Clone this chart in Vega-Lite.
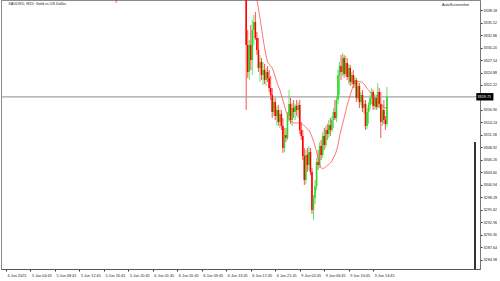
{
  "$schema": "https://vega.github.io/schema/vega-lite/v6.json",
  "width": 479,
  "height": 269,
  "padding": 0,
  "autosize": {"type": "pad"},
  "background": "white",
  "view": {"stroke": "#8a8a8a", "strokeWidth": 1},
  "config": {"font": "Liberation Sans"},
  "resolve": {"axis": {"x": "independent", "y": "independent"}},
  "datasets": {
    "candles": [
      {"b":72,"o":3352.0,"h":3356.0,"l":3339.7,"c":3349.5},
      {"b":157,"o":3343.50,"h":3344.14,"l":3316.90,"c":3330.73},
      {"b":158,"o":3330.73,"h":3333.93,"l":3323.71,"c":3324.99},
      {"b":159,"o":3324.99,"h":3331.80,"l":3323.29,"c":3330.73},
      {"b":160,"o":3330.73,"h":3334.99,"l":3325.41,"c":3327.54},
      {"b":161,"o":3327.54,"h":3336.05,"l":3324.35,"c":3333.93},
      {"b":162,"o":3333.93,"h":3337.12,"l":3330.73,"c":3335.63},
      {"b":163,"o":3335.63,"h":3337.76,"l":3331.80,"c":3332.22},
      {"b":164,"o":3332.22,"h":3333.50,"l":3328.61,"c":3329.67},
      {"b":165,"o":3329.67,"h":3332.22,"l":3324.99,"c":3325.84},
      {"b":166,"o":3325.84,"h":3328.61,"l":3322.86,"c":3327.12},
      {"b":167,"o":3327.12,"h":3327.97,"l":3323.29,"c":3324.35},
      {"b":168,"o":3324.35,"h":3327.12,"l":3322.22,"c":3325.41},
      {"b":169,"o":3325.41,"h":3326.69,"l":3322.43,"c":3323.29},
      {"b":170,"o":3323.29,"h":3325.84,"l":3322.01,"c":3324.99},
      {"b":171,"o":3324.99,"h":3326.26,"l":3322.86,"c":3323.71},
      {"b":172,"o":3323.71,"h":3325.41,"l":3320.73,"c":3321.58},
      {"b":173,"o":3321.58,"h":3324.14,"l":3319.03,"c":3320.09},
      {"b":174,"o":3320.09,"h":3321.58,"l":3315.20,"c":3316.48},
      {"b":175,"o":3316.48,"h":3319.88,"l":3315.62,"c":3318.60},
      {"b":176,"o":3318.60,"h":3319.46,"l":3314.77,"c":3315.62},
      {"b":177,"o":3315.62,"h":3317.75,"l":3313.71,"c":3316.90},
      {"b":178,"o":3316.90,"h":3317.97,"l":3313.50,"c":3314.35},
      {"b":179,"o":3314.35,"h":3316.90,"l":3313.07,"c":3316.05},
      {"b":180,"o":3316.05,"h":3316.90,"l":3312.64,"c":3313.50},
      {"b":181,"o":3313.50,"h":3315.20,"l":3307.75,"c":3308.82},
      {"b":182,"o":3308.82,"h":3313.07,"l":3307.96,"c":3311.58},
      {"b":183,"o":3311.58,"h":3313.07,"l":3310.09,"c":3310.94},
      {"b":184,"o":3310.94,"h":3316.48,"l":3310.52,"c":3315.62},
      {"b":185,"o":3315.62,"h":3321.16,"l":3314.35,"c":3318.18},
      {"b":186,"o":3318.18,"h":3319.46,"l":3313.92,"c":3314.77},
      {"b":187,"o":3314.77,"h":3318.39,"l":3313.50,"c":3317.33},
      {"b":188,"o":3317.33,"h":3319.03,"l":3315.20,"c":3316.48},
      {"b":189,"o":3316.48,"h":3318.18,"l":3314.77,"c":3317.75},
      {"b":190,"o":3317.75,"h":3319.03,"l":3315.62,"c":3316.90},
      {"b":191,"o":3316.90,"h":3318.60,"l":3315.20,"c":3317.97},
      {"b":192,"o":3317.97,"h":3319.03,"l":3311.79,"c":3312.64},
      {"b":193,"o":3312.64,"h":3314.35,"l":3310.52,"c":3311.37},
      {"b":194,"o":3311.37,"h":3312.64,"l":3306.26,"c":3307.11},
      {"b":195,"o":3307.11,"h":3308.82,"l":3300.94,"c":3302.00},
      {"b":196,"o":3302.00,"h":3308.39,"l":3301.15,"c":3307.33},
      {"b":197,"o":3307.33,"h":3308.82,"l":3303.71,"c":3305.20},
      {"b":198,"o":3305.20,"h":3309.24,"l":3304.13,"c":3307.96},
      {"b":199,"o":3307.96,"h":3308.82,"l":3303.07,"c":3303.71},
      {"b":200,"o":3303.71,"h":3304.56,"l":3294.77,"c":3295.62},
      {"b":201,"o":3295.62,"h":3298.81,"l":3293.49,"c":3298.17},
      {"b":202,"o":3298.17,"h":3302.00,"l":3296.90,"c":3300.73},
      {"b":203,"o":3300.73,"h":3306.69,"l":3299.88,"c":3305.84},
      {"b":204,"o":3305.84,"h":3308.39,"l":3304.13,"c":3305.20},
      {"b":205,"o":3305.20,"h":3310.09,"l":3304.56,"c":3309.24},
      {"b":206,"o":3309.24,"h":3310.52,"l":3306.26,"c":3307.33},
      {"b":207,"o":3307.33,"h":3312.22,"l":3306.69,"c":3311.37},
      {"b":208,"o":3311.37,"h":3313.07,"l":3308.39,"c":3309.45},
      {"b":209,"o":3309.45,"h":3313.50,"l":3308.82,"c":3312.64},
      {"b":210,"o":3312.64,"h":3313.92,"l":3310.52,"c":3311.79},
      {"b":211,"o":3311.79,"h":3314.77,"l":3310.94,"c":3313.71},
      {"b":212,"o":3313.71,"h":3315.20,"l":3311.37,"c":3312.64},
      {"b":213,"o":3312.64,"h":3315.62,"l":3312.22,"c":3314.77},
      {"b":214,"o":3314.77,"h":3317.33,"l":3313.07,"c":3316.48},
      {"b":215,"o":3316.48,"h":3319.03,"l":3314.77,"c":3315.20},
      {"b":216,"o":3315.20,"h":3319.88,"l":3314.35,"c":3319.03},
      {"b":217,"o":3319.03,"h":3325.41,"l":3318.18,"c":3324.35},
      {"b":218,"o":3324.35,"h":3327.12,"l":3320.09,"c":3326.26},
      {"b":219,"o":3326.26,"h":3328.61,"l":3323.29,"c":3324.99},
      {"b":220,"o":3324.99,"h":3329.03,"l":3324.14,"c":3327.97},
      {"b":221,"o":3327.97,"h":3328.61,"l":3323.71,"c":3324.56},
      {"b":222,"o":3324.56,"h":3328.39,"l":3324.14,"c":3326.90},
      {"b":223,"o":3326.90,"h":3327.97,"l":3323.29,"c":3323.92},
      {"b":224,"o":3323.92,"h":3326.69,"l":3322.43,"c":3325.84},
      {"b":225,"o":3325.84,"h":3326.48,"l":3322.01,"c":3322.86},
      {"b":226,"o":3322.86,"h":3324.99,"l":3322.22,"c":3324.35},
      {"b":227,"o":3324.35,"h":3325.41,"l":3321.58,"c":3322.43},
      {"b":228,"o":3322.43,"h":3324.14,"l":3321.58,"c":3323.29},
      {"b":229,"o":3323.29,"h":3323.71,"l":3318.60,"c":3319.46},
      {"b":230,"o":3319.46,"h":3322.86,"l":3319.03,"c":3322.01},
      {"b":231,"o":3322.01,"h":3322.65,"l":3317.33,"c":3318.60},
      {"b":232,"o":3318.60,"h":3320.73,"l":3317.97,"c":3320.09},
      {"b":233,"o":3320.09,"h":3321.16,"l":3316.48,"c":3317.33},
      {"b":234,"o":3317.33,"h":3319.03,"l":3316.05,"c":3318.18},
      {"b":235,"o":3318.18,"h":3319.03,"l":3312.64,"c":3313.50},
      {"b":236,"o":3313.50,"h":3317.33,"l":3312.86,"c":3316.48},
      {"b":237,"o":3316.48,"h":3318.60,"l":3313.92,"c":3317.97},
      {"b":238,"o":3317.97,"h":3320.09,"l":3316.90,"c":3319.46},
      {"b":239,"o":3319.46,"h":3321.58,"l":3318.18,"c":3320.73},
      {"b":240,"o":3320.73,"h":3321.16,"l":3316.90,"c":3317.75},
      {"b":241,"o":3317.75,"h":3320.31,"l":3317.11,"c":3319.46},
      {"b":242,"o":3319.46,"h":3320.09,"l":3316.90,"c":3317.54},
      {"b":243,"o":3317.54,"h":3322.65,"l":3317.11,"c":3320.73},
      {"b":244,"o":3320.73,"h":3321.58,"l":3317.33,"c":3318.18},
      {"b":245,"o":3318.18,"h":3320.73,"l":3310.94,"c":3314.35},
      {"b":246,"o":3314.35,"h":3318.18,"l":3313.50,"c":3316.90},
      {"b":247,"o":3316.90,"h":3319.03,"l":3313.92,"c":3314.77},
      {"b":248,"o":3314.77,"h":3315.62,"l":3312.64,"c":3313.92},
      {"b":249,"o":3313.92,"h":3321.80,"l":3313.50,"c":3319.71}
    ],
    "ma": [
      {"b":162,"m":3343.6},{"b":163,"m":3341.9},{"b":164,"m":3340.31},{"b":165,"m":3338.61},
      {"b":166,"m":3336.48},{"b":167,"m":3334.35},{"b":168,"m":3332.22},{"b":169,"m":3330.10},
      {"b":170,"m":3328.39},{"b":171,"m":3327.12},{"b":172,"m":3326.69},{"b":173,"m":3326.26},
      {"b":174,"m":3325.84},{"b":175,"m":3324.99},{"b":176,"m":3323.92},{"b":177,"m":3322.86},
      {"b":178,"m":3322.01},{"b":179,"m":3321.16},{"b":180,"m":3320.09},{"b":181,"m":3319.03},
      {"b":182,"m":3317.75},{"b":183,"m":3316.69},{"b":184,"m":3315.62},{"b":185,"m":3314.99},
      {"b":186,"m":3314.56},{"b":187,"m":3314.35},{"b":188,"m":3314.14},{"b":189,"m":3314.14},
      {"b":190,"m":3314.14},{"b":191,"m":3314.14},{"b":192,"m":3314.14},{"b":193,"m":3314.03},
      {"b":194,"m":3313.82},{"b":195,"m":3313.50},{"b":196,"m":3313.18},{"b":197,"m":3312.86},
      {"b":198,"m":3312.64},{"b":199,"m":3312.01},{"b":200,"m":3311.16},{"b":201,"m":3310.31},
      {"b":202,"m":3309.24},{"b":203,"m":3307.96},{"b":204,"m":3306.69},{"b":205,"m":3305.41},
      {"b":206,"m":3304.56},{"b":207,"m":3304.45},{"b":208,"m":3304.56},{"b":209,"m":3304.77},
      {"b":210,"m":3305.09},{"b":211,"m":3305.30},{"b":212,"m":3305.62},{"b":213,"m":3306.05},
      {"b":214,"m":3306.69},{"b":215,"m":3307.33},{"b":216,"m":3308.18},{"b":217,"m":3309.45},
      {"b":218,"m":3311.16},{"b":219,"m":3312.64},{"b":220,"m":3313.92},{"b":221,"m":3315.20},
      {"b":222,"m":3316.48},{"b":223,"m":3317.97},{"b":224,"m":3319.03},{"b":225,"m":3320.09},
      {"b":226,"m":3321.16},{"b":227,"m":3322.01},{"b":228,"m":3322.65},{"b":229,"m":3322.86},
      {"b":230,"m":3322.97},{"b":231,"m":3322.97},{"b":232,"m":3322.86},{"b":233,"m":3322.75},
      {"b":234,"m":3322.43},{"b":235,"m":3322.01},{"b":236,"m":3321.48},{"b":237,"m":3321.16},
      {"b":238,"m":3320.73},{"b":239,"m":3320.31},{"b":240,"m":3319.88},{"b":241,"m":3319.46},
      {"b":242,"m":3319.03},{"b":243,"m":3318.60},{"b":244,"m":3318.29},{"b":245,"m":3317.97},
      {"b":246,"m":3317.75},{"b":247,"m":3317.54},{"b":248,"m":3317.33},{"b":249,"m":3317.33}
    ],
    "one": [{"p": 3319.71}]
  },
  "layer": [
    {
      "data": {"name": "candles"},
      "mark": {"type": "rule", "strokeWidth": 0.7, "clip": true},
      "encoding": {
        "x": {"field": "b", "type": "quantitative", "scale": {"domain": [0, 306.56], "nice": false, "zero": false},
          "axis": {
            "title": null, "grid": false,
            "values": [0,16,32,48,64,80,96,112,128,144,160,176,192,208,224,240],
            "labelExpr": "['4 Jun 2025','5 Jun 04:45','5 Jun 08:45','5 Jun 12:45','5 Jun 16:45','5 Jun 20:45','6 Jun 01:45','6 Jun 05:45','6 Jun 09:45','6 Jun 13:45','6 Jun 17:45','6 Jun 21:45','9 Jun 02:45','9 Jun 06:45','9 Jun 10:45','9 Jun 14:45'][round(datum.value/16)]",
            "labelAlign": "left", "labelOffset": 1, "labelFontSize": 3.8, "labelColor": "#222",
            "labelPadding": 2, "tickSize": 2, "tickColor": "#333", "domainColor": "#555", "domainWidth": 1,
            "labelOverlap": false, "labelFlush": false
          }
        },
        "y": {"field": "l", "type": "quantitative", "scale": {"domain": [3283.06, 3340.31], "nice": false, "zero": false},
          "axis": {
            "orient": "right", "title": null, "grid": false,
            "values": [3284.98,3287.64,3290.30,3292.96,3295.62,3298.28,3300.94,3303.60,3306.26,3308.92,3311.58,3314.24,3316.90,3322.22,3324.88,3327.54,3330.20,3332.86,3335.52,3338.18],
            "format": ".2f", "labelFontSize": 3.8, "labelColor": "#222", "labelPadding": 1,
            "tickSize": 2, "tickColor": "#333", "domainColor": "#777", "domainWidth": 1,
            "labelOverlap": false, "labelFlush": false
          }
        },
        "y2": {"field": "h"},
        "color": {"condition": {"test": "datum.c >= datum.o", "value": "#2ad82a"}, "value": "#ff0000"}
      }
    },
    {
      "data": {"name": "one"},
      "mark": {"type": "rule", "color": "#a3a3a3", "strokeWidth": 1.2},
      "encoding": {
        "y": {"field": "p", "type": "quantitative", "axis": null}
      }
    },
    {
      "data": {"name": "candles"},
      "mark": {"type": "bar", "size": 1.6, "clip": true},
      "encoding": {
        "x": {"field": "b", "type": "quantitative", "axis": null},
        "y": {"field": "o", "type": "quantitative", "axis": null},
        "y2": {"field": "c"},
        "color": {"condition": {"test": "datum.c >= datum.o", "value": "#2ad82a"}, "value": "#ff0000"}
      }
    },
    {
      "data": {"name": "ma"},
      "mark": {"type": "line", "color": "#ff3a3a", "strokeWidth": 0.7, "clip": true},
      "encoding": {
        "x": {"field": "b", "type": "quantitative", "axis": null},
        "y": {"field": "m", "type": "quantitative", "axis": null}
      }
    },
    {
      "data": {"name": "one"},
      "mark": {"type": "rule", "color": "#000000", "strokeWidth": 1.6},
      "encoding": {
        "x": {"datum": 306.56, "type": "quantitative", "axis": null},
        "y": {"datum": 3310.09, "type": "quantitative", "axis": null},
        "y2": {"datum": 3283.06}
      }
    },
    {
      "data": {"name": "one"},
      "mark": {"type": "rect", "color": "#000000"},
      "encoding": {
        "x": {"datum": 307.4, "type": "quantitative", "axis": null},
        "x2": {"datum": 318.6},
        "y": {"datum": 3320.50, "type": "quantitative", "axis": null},
        "y2": {"datum": 3318.92}
      }
    },
    {
      "data": {"name": "one"},
      "mark": {"type": "text", "color": "#ffffff", "fontSize": 3.8, "align": "left", "baseline": "middle"},
      "encoding": {
        "x": {"datum": 308.2, "type": "quantitative", "axis": null},
        "y": {"field": "p", "type": "quantitative", "axis": null},
        "text": {"field": "p", "type": "quantitative", "format": ".2f"}
      }
    },
    {
      "data": {"name": "one"},
      "mark": {"type": "text", "color": "#222222", "fontSize": 3.8, "align": "left", "baseline": "middle"},
      "encoding": {
        "x": {"datum": 1.5, "type": "quantitative", "axis": null},
        "y": {"datum": 3339.45, "type": "quantitative", "axis": null},
        "text": {"value": "XAUUSD, M15:  Gold vs US Dollar"}
      }
    },
    {
      "data": {"name": "one"},
      "mark": {"type": "text", "color": "#222222", "fontSize": 3.8, "align": "right", "baseline": "middle"},
      "encoding": {
        "x": {"datum": 302.6, "type": "quantitative", "axis": null},
        "y": {"datum": 3339.25, "type": "quantitative", "axis": null},
        "text": {"value": "AutoScreenshot"}
      }
    }
  ]
}
